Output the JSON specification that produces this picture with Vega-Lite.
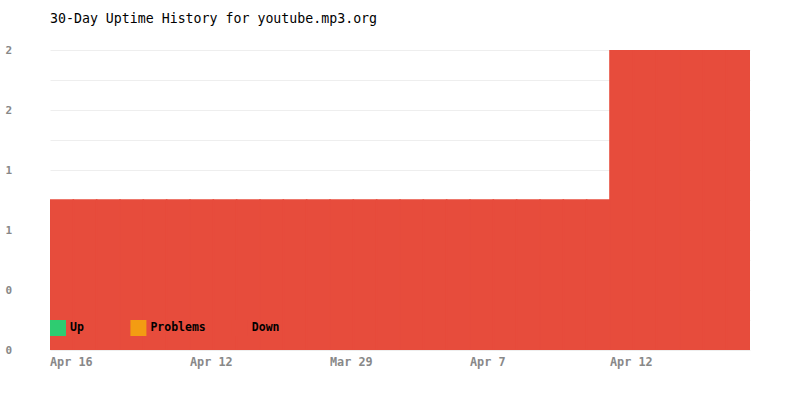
{
  "$schema": "https://vega.github.io/schema/vega-lite/v6.json",
  "width": 700,
  "height": 300,
  "autosize": "none",
  "padding": {"left": 50, "top": 50, "right": 50, "bottom": 50},
  "background": "white",
  "title": {
    "text": "30-Day Uptime History for youtube.mp3.org",
    "anchor": "start",
    "frame": "group",
    "font": "DejaVu Sans Mono",
    "fontSize": 13.25,
    "fontWeight": "normal",
    "color": "black",
    "baseline": "middle",
    "offset": 12
  },
  "config": {
    "view": {"stroke": null},
    "font": "DejaVu Sans Mono"
  },
  "data": {
    "values": [
      {"day": 0, "status": "Down", "value": 1},
      {"day": 1, "status": "Down", "value": 1},
      {"day": 2, "status": "Down", "value": 1},
      {"day": 3, "status": "Down", "value": 1},
      {"day": 4, "status": "Down", "value": 1},
      {"day": 5, "status": "Down", "value": 1},
      {"day": 6, "status": "Down", "value": 1},
      {"day": 7, "status": "Down", "value": 1},
      {"day": 8, "status": "Down", "value": 1},
      {"day": 9, "status": "Down", "value": 1},
      {"day": 10, "status": "Down", "value": 1},
      {"day": 11, "status": "Down", "value": 1},
      {"day": 12, "status": "Down", "value": 1},
      {"day": 13, "status": "Down", "value": 1},
      {"day": 14, "status": "Down", "value": 1},
      {"day": 15, "status": "Down", "value": 1},
      {"day": 16, "status": "Down", "value": 1},
      {"day": 17, "status": "Down", "value": 1},
      {"day": 18, "status": "Down", "value": 1},
      {"day": 19, "status": "Down", "value": 1},
      {"day": 20, "status": "Down", "value": 1},
      {"day": 21, "status": "Down", "value": 1},
      {"day": 22, "status": "Down", "value": 1},
      {"day": 23, "status": "Down", "value": 1},
      {"day": 24, "status": "Down", "value": 2},
      {"day": 25, "status": "Down", "value": 2},
      {"day": 26, "status": "Down", "value": 2},
      {"day": 27, "status": "Down", "value": 2},
      {"day": 28, "status": "Down", "value": 2},
      {"day": 29, "status": "Down", "value": 2}
    ]
  },
  "mark": {"type": "bar", "strokeWidth": 1.6, "stroke": "#e74c3c", "clip": true},
  "encoding": {
    "x": {
      "field": "day",
      "type": "ordinal",
      "scale": {"paddingInner": 0, "paddingOuter": 0},
      "axis": {
        "title": null,
        "values": [0, 6, 12, 18, 24],
        "labelAngle": 0,
        "labelAlign": "left",
        "labelOffset": -11.67,
        "labelExpr": "['Apr 16', 'Apr 12', 'Mar 29', 'Apr 7', 'Apr 12'][datum.value / 6]",
        "labelFontSize": 11.8,
        "labelFontWeight": "bold",
        "labelColor": "#888888",
        "labelPadding": 6,
        "ticks": false,
        "domain": false,
        "grid": false
      }
    },
    "y": {
      "field": "value",
      "type": "quantitative",
      "stack": "zero",
      "scale": {"domain": [0, 2], "nice": false},
      "axis": {
        "title": null,
        "values": [0, 0.2, 0.4, 0.6, 0.8, 1, 1.2, 1.4, 1.6, 1.8, 2],
        "labelExpr": "round(datum.value * 10) % 4 == 0 ? format(datum.value, 'd') : ''",
        "labelAlign": "left",
        "labelPadding": 45,
        "labelFontSize": 11,
        "labelFontWeight": "bold",
        "labelColor": "#888888",
        "ticks": false,
        "domain": false,
        "grid": true,
        "gridColor": "#eeeeee",
        "gridWidth": 1
      }
    },
    "color": {
      "field": "status",
      "type": "nominal",
      "scale": {
        "domain": ["Up", "Problems", "Down"],
        "range": ["#2ecc71", "#f39c12", "#e74c3c"]
      },
      "legend": {
        "title": null,
        "orient": "none",
        "legendX": 0,
        "legendY": 270,
        "direction": "horizontal",
        "columns": 3,
        "gridAlign": "each",
        "columnPadding": 25.4,
        "labelExpr": "datum.value == 'Up' ? 'Up\u00a0\u00a0\u00a0\u200b' : datum.value",
        "symbolType": "square",
        "symbolSize": 256,
        "symbolStrokeWidth": 0,
        "symbolOffset": 0,
        "labelOffset": 4,
        "labelFontSize": 11.5,
        "labelFontWeight": "bold",
        "labelColor": "black"
      }
    }
  }
}
